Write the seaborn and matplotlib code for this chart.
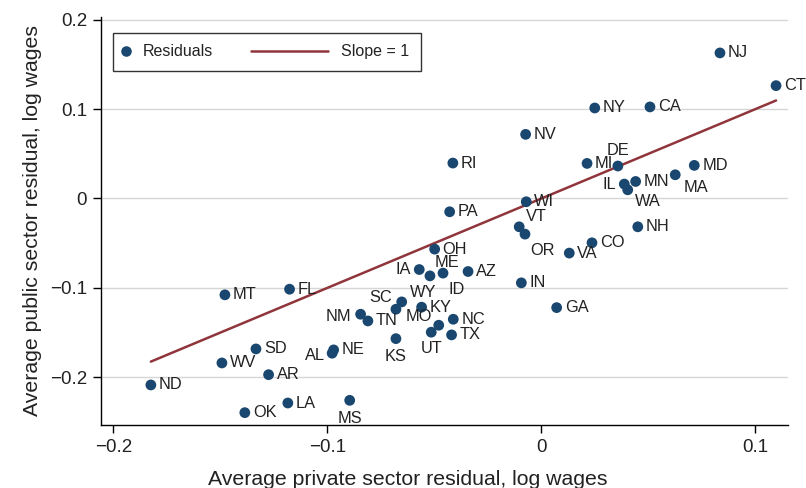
import matplotlib
matplotlib.use("Agg")
import matplotlib.pyplot as plt
import seaborn as sns
import pandas as pd
from matplotlib.lines import Line2D
from matplotlib.legend_handler import HandlerLine2D, HandlerBase

# state residuals
states = ["NJ", "CT", "NY", "CA", "NV", "RI", "MI", "DE", "MD", "MA", "MN", "IL",
          "WA", "WI", "PA", "VT", "OR", "NH", "CO", "OH", "VA", "AZ", "ME", "IA",
          "ID", "IN", "GA", "NC", "TX", "MT", "FL", "WY", "SC", "KY", "MO", "UT",
          "NM", "TN", "KS", "SD", "WV", "AR", "ND", "OK", "LA", "MS", "AL", "NE"]
private_resid = [0.0834, 0.1096, 0.0249, 0.0507, -0.0074, -0.0414, 0.0213, 0.0357,
                 0.0714, 0.0625, 0.0440, 0.0387, 0.0403, -0.0071, -0.0429, -0.0104,
                 -0.0077, 0.0450, 0.0236, -0.0499, 0.0130, -0.0343, -0.0521, -0.0571,
                 -0.0460, -0.0094, 0.0071, -0.0412, -0.0420, -0.1479, -0.1177, -0.0653,
                 -0.0680, -0.0560, -0.0480, -0.0515, -0.0845, -0.0811, -0.0680, -0.1334,
                 -0.1493, -0.1275, -0.1825, -0.1386, -0.1185, -0.0896, -0.0978, -0.0971]
public_resid = [0.1628, 0.1262, 0.1012, 0.1024, 0.0717, 0.0396, 0.0392, 0.0363,
                0.0370, 0.0265, 0.0190, 0.0161, 0.0097, -0.0037, -0.0149, -0.0317,
                -0.0399, -0.0317, -0.0496, -0.0567, -0.0611, -0.0817, -0.0866, -0.0795,
                -0.0835, -0.0944, -0.1221, -0.1351, -0.1526, -0.1078, -0.1015, -0.1157,
                -0.1239, -0.1216, -0.1418, -0.1496, -0.1295, -0.1370, -0.1568, -0.1683,
                -0.1840, -0.1971, -0.2086, -0.2396, -0.2288, -0.2258, -0.1731, -0.1694]

x_ticks = [-0.2, -0.1, 0, 0.1]
y_ticks = [-0.2, -0.1, 0, 0.1, 0.2]

# label placement (pixel offsets, alignment); default is to the right
label_pos = {
    "DE": (0, 8, "center", "bottom"),
    "IL": (-8, 0, "right", "center"),
    "WA": (7, -12, "left", "center"),
    "MA": (8, -13, "left", "center"),
    "VT": (7, 10, "left", "center"),
    "OR": (5, -16, "left", "center"),
    "ME": (5, 13, "left", "center"),
    "ID": (5, -16, "left", "center"),
    "IA": (-8, 0, "right", "center"),
    "WY": (8, 9, "left", "center"),
    "SC": (-4, 12, "right", "center"),
    "MO": (-7, 9, "right", "center"),
    "UT": (0, -9, "center", "top"),
    "KS": (0, -10, "center", "top"),
    "MS": (0, -11, "center", "top"),
    "AL": (-7, -2, "right", "center"),
    "NM": (-9, -2, "right", "center"),
}

navy = "#1a476f"
maroon = "#90353b"
ink = "#222222"

sns.set_style("white")
plt.rcParams["font.family"] = ["Liberation Sans", "DejaVu Sans"]

df = pd.DataFrame({"state": states, "private": private_resid, "public": public_resid})
line_df = pd.DataFrame({"x": [df["private"].min(), df["private"].max()]})
line_df["y"] = line_df["x"]

fig = plt.figure(figsize=(8.06, 4.88), dpi=100)
ax = fig.add_axes([0.1253, 0.1291, 0.8524, 0.8361])

ax.set_yticks(y_ticks)
ax.set_xticks(x_ticks)
ax.yaxis.grid(True, color="#d6d6d6", linewidth=1.0, zorder=0)
ax.set_axisbelow(True)

sns.lineplot(data=line_df, x="x", y="y", color=maroon, linewidth=1.8, ax=ax,
             label="Slope = 1", zorder=2)
sns.scatterplot(data=df, x="private", y="public", color=navy, s=60, edgecolor="none",
                ax=ax, label="Residuals", zorder=3)

for st, xv, yv in zip(states, private_resid, public_resid):
    dx, dy, ha, va = label_pos.get(st, (8, 0, "left", "center"))
    ax.annotate(st, (xv, yv), xytext=(dx, dy), textcoords="offset pixels",
                ha=ha, va=va, fontsize=11.8, color=ink, zorder=4)

ax.set_xlim(-0.2058, 0.1152)
ax.set_ylim(-0.2534, 0.203)
ax.set_xticklabels(["\u22120.2", "\u22120.1", "0", "0.1"])
ax.set_yticklabels(["\u22120.2", "\u22120.1", "0", "0.1", "0.2"])
ax.tick_params(axis="both", direction="out", length=6, width=1, color="#000000",
               labelsize=13.5, labelcolor=ink, bottom=True, left=True, pad=4)
for side in ["top", "right"]:
    ax.spines[side].set_visible(False)
for side in ["left", "bottom"]:
    ax.spines[side].set_color("#000000")
    ax.spines[side].set_linewidth(1.0)

ax.set_xlabel("Average private sector residual, log wages", fontsize=15.3, color=ink,
              labelpad=10, x=0.446)
ax.set_ylabel("Average public sector residual, log wages", fontsize=15.3, color=ink, labelpad=6)


class LongLine(HandlerLine2D):
    # legend line reaching further left than its handle box
    def create_artists(self, legend, orig_handle, xdescent, ydescent, width, height,
                       fontsize, trans):
        y = height / 2 - ydescent
        ln = Line2D([-xdescent - 51.5, -xdescent + width - 5.3], [y, y])
        self.update_prop(ln, orig_handle, legend)
        ln.set_transform(trans)
        return [ln]


class LeftDot(HandlerBase):
    # marker sitting at the left edge of its handle box
    def create_artists(self, legend, orig_handle, xdescent, ydescent, width, height,
                       fontsize, trans):
        y = height / 2 - ydescent
        dot = Line2D([-xdescent + 1.0], [y], marker="o", linestyle="none",
                     markersize=7.6, color=navy, markeredgewidth=0)
        dot.set_transform(trans)
        return [dot]


handles, labels = ax.get_legend_handles_labels()
order = [labels.index("Residuals"), labels.index("Slope = 1")]
leg = ax.legend([handles[i] for i in order], [labels[i] for i in order],
                ncol=2, loc="upper left", bbox_to_anchor=(0.0175, 0.9617),
                borderaxespad=0, fontsize=11.5, frameon=True, fancybox=False,
                handlelength=0.8, handletextpad=0.36, columnspacing=6.86,
                borderpad=0.72,
                handler_map={handles[order[0]]: LeftDot(),
                             handles[order[1]]: LongLine()})
leg.get_frame().set_edgecolor("#000000")
leg.get_frame().set_linewidth(1.0)
for t in leg.get_texts():
    t.set_color(ink)

fig.savefig("out.png", dpi=100)
